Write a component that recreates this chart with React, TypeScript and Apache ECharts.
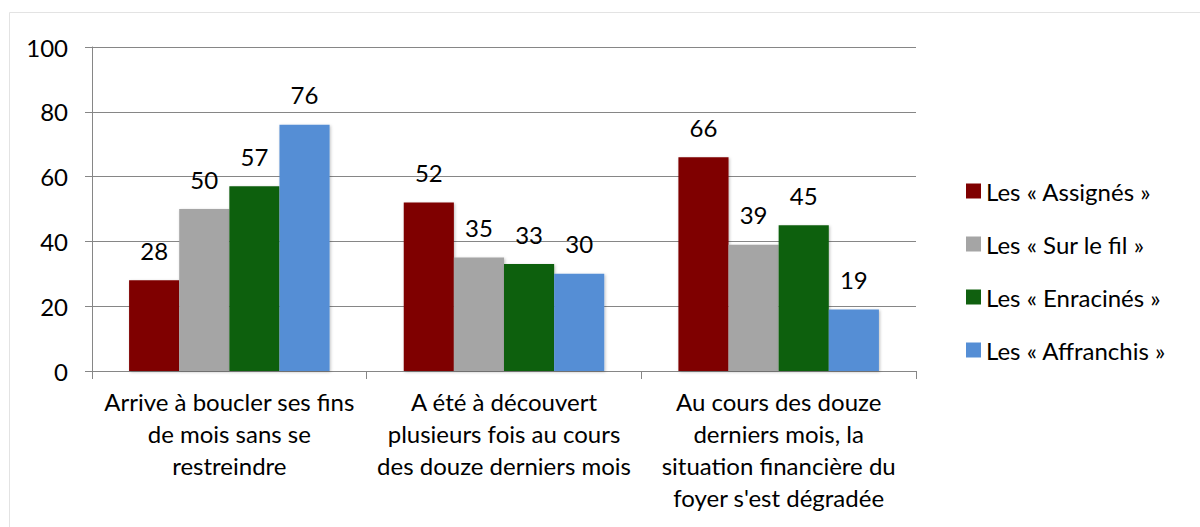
import React, { useEffect, useRef } from "react";
import * as echarts from "echarts";

const categories = [
  "Arrive à boucler ses fins\nde mois sans se\nrestreindre",
  "A été à découvert\nplusieurs fois au cours\ndes douze derniers mois",
  "Au cours des douze\nderniers mois, la\nsituation financière du\nfoyer s'est dégradée",
];
const seriesNames = ["Les « Assignés »", "Les « Sur le fil »", "Les « Enracinés »", "Les « Affranchis »"];
const assignes = [28, 52, 66];
const surLeFil = [50, 35, 39];
const enracines = [57, 33, 45];
const affranchis = [76, 30, 19];
const colors = ["#7f0000", "#a5a5a5", "#10600f", "#558ed5"];
const yTicks = [0, 20, 40, 60, 80, 100];

const FONT = "Lato, 'Open Sans', sans-serif";
const FS = 24;

export default function App() {
  const ref = useRef<HTMLDivElement>(null);
  useEffect(() => {
    if (!ref.current) return;
    const chart = echarts.init(ref.current, null, { renderer: "svg" });
    const data = [assignes, surLeFil, enracines, affranchis];
    chart.setOption({
      animation: false,
      backgroundColor: "#ffffff",
      textStyle: { fontFamily: FONT },
      graphic: [
        {
          type: "rect",
          shape: { x: 9.5, y: 12.5, width: 1200, height: 600 },
          style: { fill: "none", stroke: "#e3e3e3", lineWidth: 1 },
          silent: true,
        },
      ],
      grid: { left: 92, right: 284, top: 47, bottom: 156 },
      legend: {
        orient: "vertical",
        left: 961,
        top: 174,
        itemWidth: 15,
        itemHeight: 15,
        itemGap: 29,
        icon: "rect",
        textStyle: { fontFamily: FONT, fontSize: FS, color: "#000" },
        data: seriesNames,
      },
      xAxis: {
        type: "category",
        data: categories,
        axisLine: { show: true, lineStyle: { color: "#868686", width: 1 } },
        axisTick: { show: true, length: 8, lineStyle: { color: "#868686" } },
        axisLabel: {
          fontFamily: FONT,
          fontSize: FS,
          color: "#000",
          lineHeight: 32,
          margin: 14,
          interval: 0,
        },
      },
      yAxis: {
        type: "value",
        min: yTicks[0],
        max: yTicks[yTicks.length - 1],
        interval: 20,
        axisLine: { show: true, lineStyle: { color: "#868686", width: 1 } },
        axisTick: { show: true, length: 7, lineStyle: { color: "#868686" } },
        splitLine: { show: true, lineStyle: { color: "#868686", width: 1 } },
        axisLabel: { fontFamily: FONT, fontSize: FS, color: "#000", margin: 24 },
      },
      series: seriesNames.map((name, i) => ({
        name,
        type: "bar",
        data: data[i],
        barGap: "0%",
        barCategoryGap: "27%",
        itemStyle: {
          color: colors[i],
          shadowColor: "rgba(0,0,0,0.25)",
          shadowBlur: 3,
          shadowOffsetX: 1,
          shadowOffsetY: 1,
        },
        label: {
          show: true,
          position: "top",
          distance: 18,
          fontFamily: FONT,
          fontSize: FS,
          color: "#000",
        },
      })),
    });
    return () => chart.dispose();
  }, []);
  return (
    <div
      ref={ref}
      style={{ position: "absolute", left: 0, top: 0, width: 1200, height: 527 }}
    />
  );
}
